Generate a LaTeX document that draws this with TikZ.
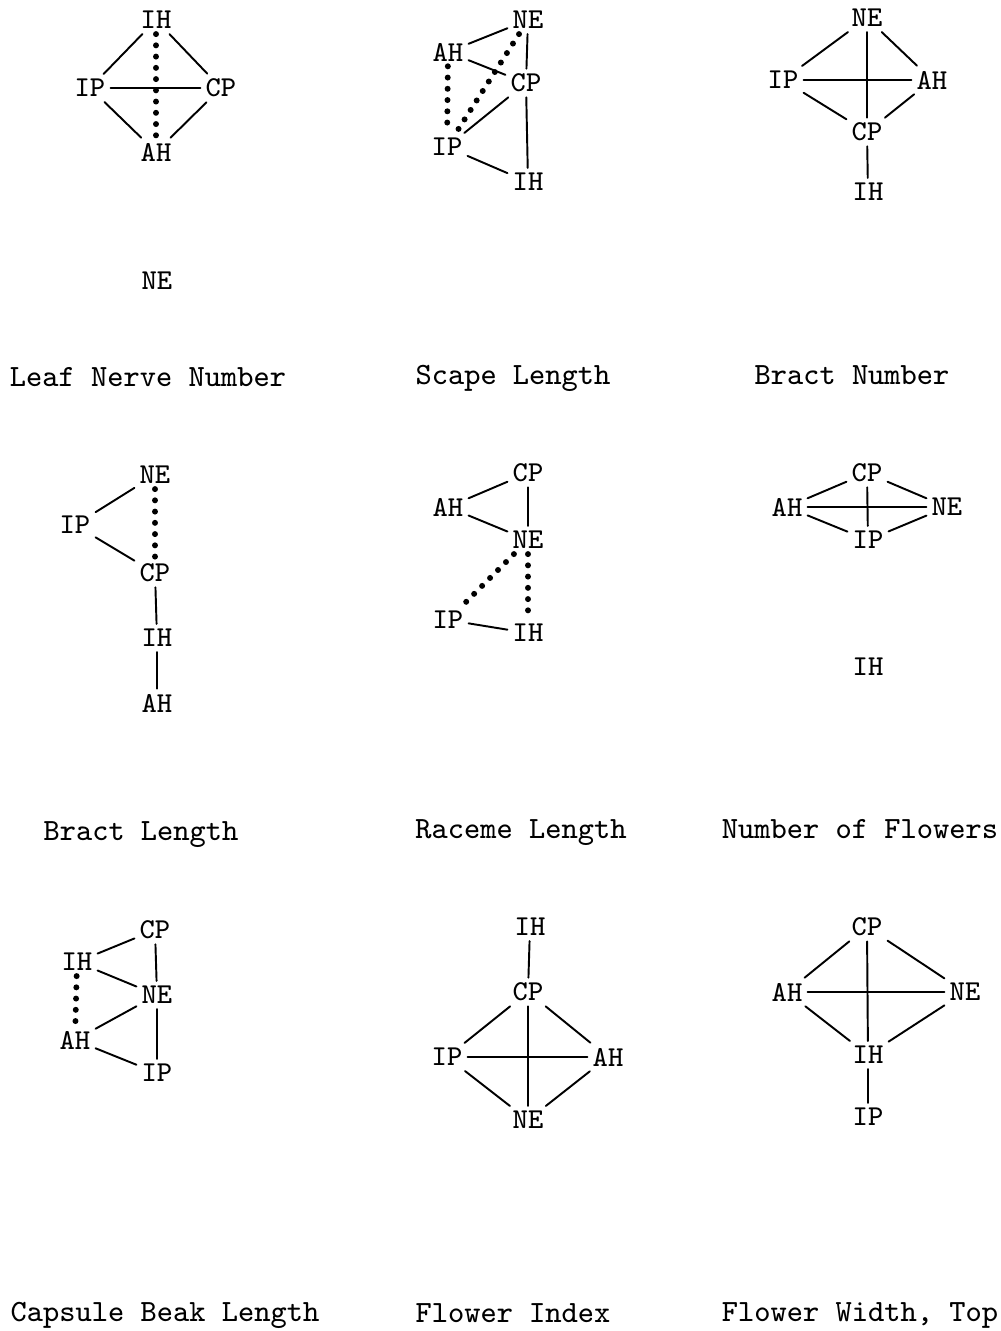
\documentclass[tikz,border=0pt]{standalone}
\usepackage{fontspec}
\begin{document}
\begin{tikzpicture}[
  x=0.1mm, y=-0.1mm,
  line cap=round,
  line join=round,
  lbl/.style={font=\fontsize{8.2}{10}\selectfont\ttfamily, inner sep=1.3pt},
  title/.style={font=\fontsize{8.8}{10}\selectfont\ttfamily, anchor=base},
  link/.style={line width=0.55pt},
  dotline/.style={line width=1.7pt, dash pattern=on 0pt off 3.2pt}
]
  \useasboundingbox (0,0) rectangle (1001,1331);

  % Leaf Nerve Number
  \node[lbl] (IH1) at (156,20) {IH};
  \node[lbl] (IP1) at (90,88) {IP};
  \node[lbl] (CP1) at (221,88) {CP};
  \node[lbl] (AH1) at (156,152) {AH};
  \node[lbl] (NE1) at (157,281) {NE};
  \draw[link] (IH1)--(IP1) (IH1)--(CP1) (IP1)--(CP1)
              (IP1)--(AH1) (CP1)--(AH1);
  \draw[dotline] (IH1)--(AH1);
  \node[title] (T1) at (148,386) {Leaf Nerve Number};

  % Scape Length
  \node[lbl] (NE2) at (528,20) {NE};
  \node[lbl] (AH2) at (448,52) {AH};
  \node[lbl] (CP2) at (526,83) {CP};
  \node[lbl] (IP2) at (447,147) {IP};
  \node[lbl] (IH2) at (528,182) {IH};
  \draw[link] (AH2)--(NE2) (AH2)--(CP2) (NE2)--(CP2)
              (CP2)--(IP2) (CP2)--(IH2) (IP2)--(IH2);
  \draw[dotline] (AH2)--(IP2) (NE2)--(IP2);
  \node[title] (T2) at (513,384) {Scape Length};

  % Bract Number
  \node[lbl] (NE3) at (867,18) {NE};
  \node[lbl] (IP3) at (783,80) {IP};
  \node[lbl] (AH3) at (932,80) {AH};
  \node[lbl] (CP3) at (867,132) {CP};
  \node[lbl] (IH3) at (868,192) {IH};
  \draw[link] (NE3)--(IP3) (NE3)--(AH3) (NE3)--(CP3)
              (IP3)--(AH3) (IP3)--(CP3) (AH3)--(CP3) (CP3)--(IH3);
  \node[title] (T3) at (852,384) {Bract Number};

  % Bract Length
  \node[lbl] (NE4) at (155,475) {NE};
  \node[lbl] (IP4) at (75,525) {IP};
  \node[lbl] (CP4) at (155,573) {CP};
  \node[lbl] (IH4) at (157,638) {IH};
  \node[lbl] (AH4) at (157,703) {AH};
  \draw[link] (NE4)--(IP4) (IP4)--(CP4) (CP4)--(IH4) (IH4)--(AH4);
  \draw[dotline] (NE4)--(CP4);
  \node[title] (T4) at (141,840) {Bract Length};

  % Raceme Length
  \node[lbl] (CP5) at (528,473) {CP};
  \node[lbl] (AH5) at (448,507) {AH};
  \node[lbl] (NE5) at (528,540) {NE};
  \node[lbl] (IP5) at (448,620) {IP};
  \node[lbl] (IH5) at (528,633) {IH};
  \draw[link] (AH5)--(CP5) (CP5)--(NE5) (AH5)--(NE5) (IP5)--(IH5);
  \draw[dotline] (NE5)--(IP5) (NE5)--(IH5);
  \node[title] (T5) at (521,838) {Raceme Length};

  % Number of Flowers
  \node[lbl] (CP6) at (867,473) {CP};
  \node[lbl] (AH6) at (787,507) {AH};
  \node[lbl] (NE6) at (947,507) {NE};
  \node[lbl] (IP6) at (868,540) {IP};
  \node[lbl] (IH6) at (868,667) {IH};
  \draw[link] (AH6)--(CP6) (CP6)--(NE6) (AH6)--(IP6) (IP6)--(NE6)
              (AH6)--(NE6) (CP6)--(IP6);
  \node[title] (T6) at (860,838) {Number of Flowers};

  % Capsule Beak Length
  \node[lbl] (CP7) at (155,930) {CP};
  \node[lbl] (IH7) at (77,962) {IH};
  \node[lbl] (NE7) at (157,995) {NE};
  \node[lbl] (AH7) at (75,1040) {AH};
  \node[lbl] (IP7) at (157,1073) {IP};
  \draw[link] (IH7)--(CP7) (CP7)--(NE7) (IH7)--(NE7)
              (NE7)--(AH7) (NE7)--(IP7) (AH7)--(IP7);
  \draw[dotline] (IH7)--(AH7);
  \node[title] (T7) at (165,1321) {Capsule Beak Length};

  % Flower Index
  \node[lbl] (IH8) at (530,927) {IH};
  \node[lbl] (CP8) at (528,992) {CP};
  \node[lbl] (IP8) at (447,1057) {IP};
  \node[lbl] (AH8) at (608,1057) {AH};
  \node[lbl] (NE8) at (528,1120) {NE};
  \draw[link] (IH8)--(CP8) (CP8)--(IP8) (CP8)--(AH8) (CP8)--(NE8)
              (IP8)--(AH8) (IP8)--(NE8) (AH8)--(NE8);
  \node[title] (T8) at (513,1322) {Flower Index};

  % Flower Width, Top
  \node[lbl] (CP9) at (867,927) {CP};
  \node[lbl] (AH9) at (787,992) {AH};
  \node[lbl] (NE9) at (965,992) {NE};
  \node[lbl] (IH9) at (868,1055) {IH};
  \node[lbl] (IP9) at (868,1117) {IP};
  \draw[link] (CP9)--(AH9) (CP9)--(NE9) (CP9)--(IH9) (AH9)--(NE9)
              (AH9)--(IH9) (NE9)--(IH9) (IH9)--(IP9);
  \node[title] (T9) at (860,1321) {Flower Width, Top};
\end{tikzpicture}
\end{document}
